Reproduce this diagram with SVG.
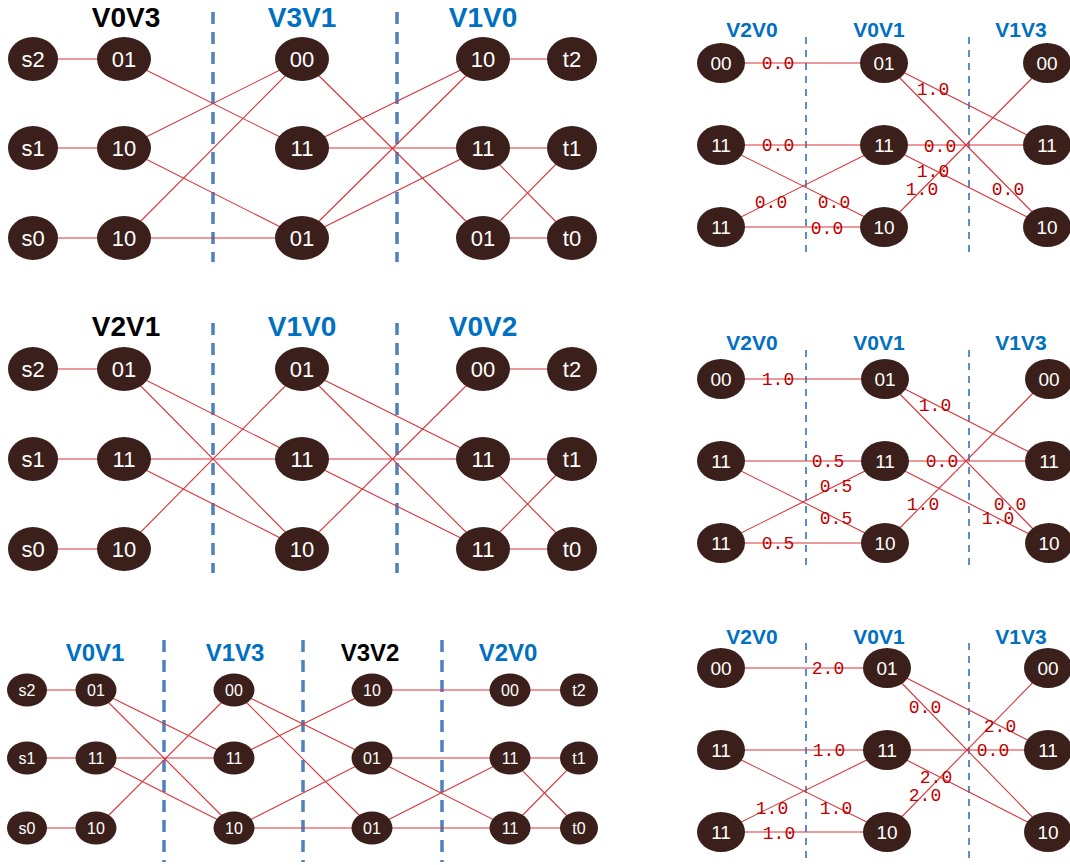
<svg xmlns="http://www.w3.org/2000/svg" width="1070" height="865" viewBox="0 0 1070 865">
<style>
.bg{fill:#ffffff}
.n ellipse{fill:#3b1f1b}
.n text{fill:#ffffff;font-family:"Liberation Sans Narrow","Liberation Sans",Arial,sans-serif;text-anchor:middle}
.L text{font-size:22px}
.S text{font-size:16px}
.R text{font-size:19px;font-family:"Liberation Sans",Arial,sans-serif}
.e line{stroke:#d8343a;stroke-width:1.1;fill:none}
.w{fill:#c00000;font-family:"Liberation Mono","Courier New",monospace;font-size:18px;text-anchor:middle}
.t{font-family:"Liberation Sans",Arial,sans-serif;font-weight:bold;text-anchor:middle}
.tb{fill:#0070c0}
.tk{fill:#000000}
.d1{stroke:#4f81bd;stroke-width:3.5;stroke-dasharray:12 8;fill:none}
.d2{stroke:#5b8dc8;stroke-width:2;stroke-dasharray:7 6;fill:none}
</style>
<rect class="bg" x="0" y="0" width="1070" height="865"/>

<g id="titles">
<text class="t tk" x="126" y="27" font-size="28">V0V3</text>
<text class="t tb" x="302" y="27" font-size="28">V3V1</text>
<text class="t tb" x="483" y="27" font-size="28">V1V0</text>
<text class="t tk" x="126" y="336" font-size="28">V2V1</text>
<text class="t tb" x="302" y="336" font-size="28">V1V0</text>
<text class="t tb" x="483" y="336" font-size="28">V0V2</text>
<text class="t tb" x="95" y="661" font-size="24">V0V1</text>
<text class="t tb" x="235" y="661" font-size="24">V1V3</text>
<text class="t tk" x="370" y="661" font-size="24">V3V2</text>
<text class="t tb" x="508" y="661" font-size="24">V2V0</text>
<text class="t tb" x="752" y="37" font-size="21">V2V0</text>
<text class="t tb" x="879" y="37" font-size="21">V0V1</text>
<text class="t tb" x="1021" y="37" font-size="21">V1V3</text>
<text class="t tb" x="752" y="350" font-size="21">V2V0</text>
<text class="t tb" x="879" y="350" font-size="21">V0V1</text>
<text class="t tb" x="1021" y="350" font-size="21">V1V3</text>
<text class="t tb" x="752" y="644" font-size="21">V2V0</text>
<text class="t tb" x="879" y="644" font-size="21">V0V1</text>
<text class="t tb" x="1021" y="644" font-size="21">V1V3</text>
</g>

<g id="dividers">
<line class="d1" x1="213" y1="12" x2="213" y2="262"/>
<line class="d1" x1="397" y1="12" x2="397" y2="262"/>
<line class="d1" x1="213" y1="323" x2="213" y2="573"/>
<line class="d1" x1="397" y1="323" x2="397" y2="573"/>
<line class="d1" x1="164" y1="640" x2="164" y2="862"/>
<line class="d1" x1="303" y1="640" x2="303" y2="862"/>
<line class="d1" x1="442" y1="640" x2="442" y2="862"/>
<line class="d2" x1="806" y1="37" x2="806" y2="257"/>
<line class="d2" x1="969" y1="37" x2="969" y2="257"/>
<line class="d2" x1="806" y1="350" x2="806" y2="570"/>
<line class="d2" x1="969" y1="350" x2="969" y2="570"/>
<line class="d2" x1="806" y1="643" x2="806" y2="862"/>
<line class="d2" x1="969" y1="643" x2="969" y2="862"/>
</g>

<g id="connectors" class="e">
<!-- panel 1 -->
<line x1="33" y1="59" x2="124" y2="59"/>
<line x1="33" y1="148" x2="124" y2="148"/>
<line x1="33" y1="238" x2="124" y2="238"/>
<line x1="124" y1="59" x2="302" y2="148"/>
<line x1="124" y1="148" x2="302" y2="59"/>
<line x1="124" y1="148" x2="302" y2="238"/>
<line x1="124" y1="238" x2="302" y2="59"/>
<line x1="124" y1="238" x2="302" y2="238"/>
<line x1="302" y1="59" x2="483" y2="238"/>
<line x1="302" y1="148" x2="483" y2="59"/>
<line x1="302" y1="148" x2="483" y2="148"/>
<line x1="302" y1="238" x2="483" y2="59"/>
<line x1="302" y1="238" x2="483" y2="148"/>
<line x1="483" y1="59" x2="572" y2="59"/>
<line x1="483" y1="148" x2="572" y2="148"/>
<line x1="483" y1="148" x2="572" y2="238"/>
<line x1="483" y1="238" x2="572" y2="148"/>
<line x1="483" y1="238" x2="572" y2="238"/>
<!-- panel 2 -->
<line x1="33" y1="369" x2="124" y2="369"/>
<line x1="33" y1="459" x2="124" y2="459"/>
<line x1="33" y1="549" x2="124" y2="549"/>
<line x1="124" y1="369" x2="302" y2="459"/>
<line x1="124" y1="369" x2="302" y2="549"/>
<line x1="124" y1="459" x2="302" y2="459"/>
<line x1="124" y1="459" x2="302" y2="549"/>
<line x1="124" y1="549" x2="302" y2="369"/>
<line x1="302" y1="369" x2="483" y2="459"/>
<line x1="302" y1="369" x2="483" y2="549"/>
<line x1="302" y1="459" x2="483" y2="459"/>
<line x1="302" y1="459" x2="483" y2="549"/>
<line x1="302" y1="549" x2="483" y2="369"/>
<line x1="483" y1="369" x2="572" y2="369"/>
<line x1="483" y1="459" x2="572" y2="459"/>
<line x1="483" y1="459" x2="572" y2="549"/>
<line x1="483" y1="549" x2="572" y2="459"/>
<line x1="483" y1="549" x2="572" y2="549"/>
<!-- panel 3 -->
<line x1="27" y1="690" x2="96" y2="690"/>
<line x1="27" y1="758" x2="96" y2="758"/>
<line x1="27" y1="828" x2="96" y2="828"/>
<line x1="96" y1="690" x2="234" y2="758"/>
<line x1="96" y1="690" x2="234" y2="828"/>
<line x1="96" y1="758" x2="234" y2="758"/>
<line x1="96" y1="758" x2="234" y2="828"/>
<line x1="96" y1="828" x2="234" y2="690"/>
<line x1="234" y1="690" x2="372" y2="758"/>
<line x1="234" y1="690" x2="372" y2="828"/>
<line x1="234" y1="758" x2="372" y2="690"/>
<line x1="234" y1="828" x2="372" y2="758"/>
<line x1="234" y1="828" x2="372" y2="828"/>
<line x1="372" y1="690" x2="510" y2="690"/>
<line x1="372" y1="758" x2="510" y2="758"/>
<line x1="372" y1="758" x2="510" y2="828"/>
<line x1="372" y1="828" x2="510" y2="758"/>
<line x1="372" y1="828" x2="510" y2="828"/>
<line x1="510" y1="690" x2="579" y2="690"/>
<line x1="510" y1="758" x2="579" y2="758"/>
<line x1="510" y1="758" x2="579" y2="828"/>
<line x1="510" y1="828" x2="579" y2="758"/>
<line x1="510" y1="828" x2="579" y2="828"/>
<!-- right panel 1 -->
<line x1="721" y1="63" x2="885" y2="63"/>
<line x1="721" y1="145" x2="885" y2="145"/>
<line x1="721" y1="145" x2="885" y2="227"/>
<line x1="721" y1="227" x2="885" y2="145"/>
<line x1="721" y1="227" x2="885" y2="227"/>
<line x1="885" y1="63" x2="1047" y2="145"/>
<line x1="885" y1="63" x2="1047" y2="227"/>
<line x1="885" y1="145" x2="1047" y2="145"/>
<line x1="885" y1="145" x2="1047" y2="227"/>
<line x1="885" y1="227" x2="1047" y2="63"/>
<!-- right panel 2 -->
<line x1="721" y1="379" x2="885" y2="379"/>
<line x1="721" y1="461" x2="885" y2="461"/>
<line x1="721" y1="461" x2="885" y2="543"/>
<line x1="721" y1="543" x2="885" y2="461"/>
<line x1="721" y1="543" x2="885" y2="543"/>
<line x1="885" y1="379" x2="1047" y2="461"/>
<line x1="885" y1="379" x2="1047" y2="543"/>
<line x1="885" y1="461" x2="1047" y2="461"/>
<line x1="885" y1="461" x2="1047" y2="543"/>
<line x1="885" y1="543" x2="1047" y2="379"/>
<!-- right panel 3 -->
<line x1="721" y1="668" x2="887" y2="668"/>
<line x1="721" y1="750" x2="887" y2="750"/>
<line x1="721" y1="750" x2="887" y2="832"/>
<line x1="721" y1="832" x2="887" y2="750"/>
<line x1="721" y1="832" x2="887" y2="832"/>
<line x1="887" y1="668" x2="1047" y2="750"/>
<line x1="887" y1="668" x2="1047" y2="832"/>
<line x1="887" y1="750" x2="1047" y2="750"/>
<line x1="887" y1="750" x2="1047" y2="832"/>
<line x1="887" y1="832" x2="1047" y2="668"/>
</g>

<g id="edge-labels">
<text class="w" x="778" y="69">0.0</text>
<text class="w" x="778" y="151">0.0</text>
<text class="w" x="834" y="208">0.0</text>
<text class="w" x="771" y="208">0.0</text>
<text class="w" x="827" y="234">0.0</text>
<text class="w" x="933" y="95">1.0</text>
<text class="w" x="1008" y="195">0.0</text>
<text class="w" x="940" y="152">0.0</text>
<text class="w" x="933" y="177">1.0</text>
<text class="w" x="922" y="195">1.0</text>

<text class="w" x="778" y="385">1.0</text>
<text class="w" x="828" y="467">0.5</text>
<text class="w" x="836" y="524">0.5</text>
<text class="w" x="836" y="492">0.5</text>
<text class="w" x="778" y="549">0.5</text>
<text class="w" x="935" y="411">1.0</text>
<text class="w" x="1010" y="510">0.0</text>
<text class="w" x="942" y="467">0.0</text>
<text class="w" x="998" y="524">1.0</text>
<text class="w" x="923" y="510">1.0</text>

<text class="w" x="828" y="674">2.0</text>
<text class="w" x="829" y="756">1.0</text>
<text class="w" x="836" y="814">1.0</text>
<text class="w" x="772" y="814">1.0</text>
<text class="w" x="779" y="839">1.0</text>
<text class="w" x="1000" y="732">2.0</text>
<text class="w" x="925" y="713">0.0</text>
<text class="w" x="993" y="756">0.0</text>
<text class="w" x="936" y="783">2.0</text>
<text class="w" x="925" y="801">2.0</text>
</g>

<!-- panel 1 nodes -->
<g id="p1-s2" class="n L"><ellipse cx="33" cy="59" rx="25" ry="22"/><text x="33" y="67">s2</text></g>
<g id="p1-s1" class="n L"><ellipse cx="33" cy="148" rx="25" ry="22"/><text x="33" y="156">s1</text></g>
<g id="p1-s0" class="n L"><ellipse cx="33" cy="238" rx="25" ry="22"/><text x="33" y="246">s0</text></g>
<g id="p1-a0" class="n L"><ellipse cx="124" cy="59" rx="27" ry="22"/><text x="124" y="67">01</text></g>
<g id="p1-a1" class="n L"><ellipse cx="124" cy="148" rx="27" ry="22"/><text x="124" y="156">10</text></g>
<g id="p1-a2" class="n L"><ellipse cx="124" cy="238" rx="27" ry="22"/><text x="124" y="246">10</text></g>
<g id="p1-b0" class="n L"><ellipse cx="302" cy="59" rx="27" ry="22"/><text x="302" y="67">00</text></g>
<g id="p1-b1" class="n L"><ellipse cx="302" cy="148" rx="27" ry="22"/><text x="302" y="156">11</text></g>
<g id="p1-b2" class="n L"><ellipse cx="302" cy="238" rx="27" ry="22"/><text x="302" y="246">01</text></g>
<g id="p1-c0" class="n L"><ellipse cx="483" cy="59" rx="27" ry="22"/><text x="483" y="67">10</text></g>
<g id="p1-c1" class="n L"><ellipse cx="483" cy="148" rx="27" ry="22"/><text x="483" y="156">11</text></g>
<g id="p1-c2" class="n L"><ellipse cx="483" cy="238" rx="27" ry="22"/><text x="483" y="246">01</text></g>
<g id="p1-t2" class="n L"><ellipse cx="572" cy="59" rx="25" ry="22"/><text x="572" y="67">t2</text></g>
<g id="p1-t1" class="n L"><ellipse cx="572" cy="148" rx="25" ry="22"/><text x="572" y="156">t1</text></g>
<g id="p1-t0" class="n L"><ellipse cx="572" cy="238" rx="25" ry="22"/><text x="572" y="246">t0</text></g>

<!-- panel 2 nodes -->
<g id="p2-s2" class="n L"><ellipse cx="33" cy="369" rx="25" ry="22"/><text x="33" y="377">s2</text></g>
<g id="p2-s1" class="n L"><ellipse cx="33" cy="459" rx="25" ry="22"/><text x="33" y="467">s1</text></g>
<g id="p2-s0" class="n L"><ellipse cx="33" cy="549" rx="25" ry="22"/><text x="33" y="557">s0</text></g>
<g id="p2-a0" class="n L"><ellipse cx="124" cy="369" rx="27" ry="22"/><text x="124" y="377">01</text></g>
<g id="p2-a1" class="n L"><ellipse cx="124" cy="459" rx="27" ry="22"/><text x="124" y="467">11</text></g>
<g id="p2-a2" class="n L"><ellipse cx="124" cy="549" rx="27" ry="22"/><text x="124" y="557">10</text></g>
<g id="p2-b0" class="n L"><ellipse cx="302" cy="369" rx="27" ry="22"/><text x="302" y="377">01</text></g>
<g id="p2-b1" class="n L"><ellipse cx="302" cy="459" rx="27" ry="22"/><text x="302" y="467">11</text></g>
<g id="p2-b2" class="n L"><ellipse cx="302" cy="549" rx="27" ry="22"/><text x="302" y="557">10</text></g>
<g id="p2-c0" class="n L"><ellipse cx="483" cy="369" rx="27" ry="22"/><text x="483" y="377">00</text></g>
<g id="p2-c1" class="n L"><ellipse cx="483" cy="459" rx="27" ry="22"/><text x="483" y="467">11</text></g>
<g id="p2-c2" class="n L"><ellipse cx="483" cy="549" rx="27" ry="22"/><text x="483" y="557">11</text></g>
<g id="p2-t2" class="n L"><ellipse cx="572" cy="369" rx="25" ry="22"/><text x="572" y="377">t2</text></g>
<g id="p2-t1" class="n L"><ellipse cx="572" cy="459" rx="25" ry="22"/><text x="572" y="467">t1</text></g>
<g id="p2-t0" class="n L"><ellipse cx="572" cy="549" rx="25" ry="22"/><text x="572" y="557">t0</text></g>

<!-- panel 3 nodes -->
<g id="p3-s2" class="n S"><ellipse cx="27" cy="690" rx="20" ry="16.5"/><text x="27" y="696">s2</text></g>
<g id="p3-s1" class="n S"><ellipse cx="27" cy="758" rx="20" ry="16.5"/><text x="27" y="764">s1</text></g>
<g id="p3-s0" class="n S"><ellipse cx="27" cy="828" rx="20" ry="16.5"/><text x="27" y="834">s0</text></g>
<g id="p3-a0" class="n S"><ellipse cx="96" cy="690" rx="20.5" ry="16.5"/><text x="96" y="696">01</text></g>
<g id="p3-a1" class="n S"><ellipse cx="96" cy="758" rx="20.5" ry="16.5"/><text x="96" y="764">11</text></g>
<g id="p3-a2" class="n S"><ellipse cx="96" cy="828" rx="20.5" ry="16.5"/><text x="96" y="834">10</text></g>
<g id="p3-b0" class="n S"><ellipse cx="234" cy="690" rx="20.5" ry="16.5"/><text x="234" y="696">00</text></g>
<g id="p3-b1" class="n S"><ellipse cx="234" cy="758" rx="20.5" ry="16.5"/><text x="234" y="764">11</text></g>
<g id="p3-b2" class="n S"><ellipse cx="234" cy="828" rx="20.5" ry="16.5"/><text x="234" y="834">10</text></g>
<g id="p3-c0" class="n S"><ellipse cx="372" cy="690" rx="20.5" ry="16.5"/><text x="372" y="696">10</text></g>
<g id="p3-c1" class="n S"><ellipse cx="372" cy="758" rx="20.5" ry="16.5"/><text x="372" y="764">01</text></g>
<g id="p3-c2" class="n S"><ellipse cx="372" cy="828" rx="20.5" ry="16.5"/><text x="372" y="834">01</text></g>
<g id="p3-d0" class="n S"><ellipse cx="510" cy="690" rx="20.5" ry="16.5"/><text x="510" y="696">00</text></g>
<g id="p3-d1" class="n S"><ellipse cx="510" cy="758" rx="20.5" ry="16.5"/><text x="510" y="764">11</text></g>
<g id="p3-d2" class="n S"><ellipse cx="510" cy="828" rx="20.5" ry="16.5"/><text x="510" y="834">11</text></g>
<g id="p3-t2" class="n S"><ellipse cx="579" cy="690" rx="19" ry="16.5"/><text x="579" y="696">t2</text></g>
<g id="p3-t1" class="n S"><ellipse cx="579" cy="758" rx="19" ry="16.5"/><text x="579" y="764">t1</text></g>
<g id="p3-t0" class="n S"><ellipse cx="579" cy="828" rx="19" ry="16.5"/><text x="579" y="834">t0</text></g>

<!-- right panel 1 nodes -->
<g id="r1-a0" class="n R"><ellipse cx="721" cy="63" rx="24" ry="20"/><text x="721" y="70">00</text></g>
<g id="r1-a1" class="n R"><ellipse cx="721" cy="145" rx="24" ry="20"/><text x="721" y="152">11</text></g>
<g id="r1-a2" class="n R"><ellipse cx="721" cy="227" rx="24" ry="20"/><text x="721" y="234">11</text></g>
<g id="r1-b0" class="n R"><ellipse cx="884" cy="63" rx="24" ry="20"/><text x="884" y="70">01</text></g>
<g id="r1-b1" class="n R"><ellipse cx="884" cy="145" rx="24" ry="20"/><text x="884" y="152">11</text></g>
<g id="r1-b2" class="n R"><ellipse cx="884" cy="227" rx="24" ry="20"/><text x="884" y="234">10</text></g>
<g id="r1-c0" class="n R"><ellipse cx="1047" cy="63" rx="24" ry="20"/><text x="1047" y="70">00</text></g>
<g id="r1-c1" class="n R"><ellipse cx="1047" cy="145" rx="24" ry="20"/><text x="1047" y="152">11</text></g>
<g id="r1-c2" class="n R"><ellipse cx="1047" cy="227" rx="24" ry="20"/><text x="1047" y="234">10</text></g>

<!-- right panel 2 nodes -->
<g id="r2-a0" class="n R"><ellipse cx="721" cy="379" rx="24" ry="20"/><text x="721" y="386">00</text></g>
<g id="r2-a1" class="n R"><ellipse cx="721" cy="461" rx="24" ry="20"/><text x="721" y="468">11</text></g>
<g id="r2-a2" class="n R"><ellipse cx="721" cy="543" rx="24" ry="20"/><text x="721" y="550">11</text></g>
<g id="r2-b0" class="n R"><ellipse cx="885" cy="379" rx="24" ry="20"/><text x="885" y="386">01</text></g>
<g id="r2-b1" class="n R"><ellipse cx="885" cy="461" rx="24" ry="20"/><text x="885" y="468">11</text></g>
<g id="r2-b2" class="n R"><ellipse cx="885" cy="543" rx="24" ry="20"/><text x="885" y="550">10</text></g>
<g id="r2-c0" class="n R"><ellipse cx="1049" cy="379" rx="24" ry="20"/><text x="1049" y="386">00</text></g>
<g id="r2-c1" class="n R"><ellipse cx="1049" cy="461" rx="24" ry="20"/><text x="1049" y="468">11</text></g>
<g id="r2-c2" class="n R"><ellipse cx="1049" cy="543" rx="24" ry="20"/><text x="1049" y="550">10</text></g>

<!-- right panel 3 nodes -->
<g id="r3-a0" class="n R"><ellipse cx="721" cy="668" rx="24" ry="20"/><text x="721" y="675">00</text></g>
<g id="r3-a1" class="n R"><ellipse cx="721" cy="750" rx="24" ry="20"/><text x="721" y="757">11</text></g>
<g id="r3-a2" class="n R"><ellipse cx="721" cy="832" rx="24" ry="20"/><text x="721" y="839">11</text></g>
<g id="r3-b0" class="n R"><ellipse cx="887" cy="668" rx="24" ry="20"/><text x="887" y="675">01</text></g>
<g id="r3-b1" class="n R"><ellipse cx="887" cy="750" rx="24" ry="20"/><text x="887" y="757">11</text></g>
<g id="r3-b2" class="n R"><ellipse cx="887" cy="832" rx="24" ry="20"/><text x="887" y="839">10</text></g>
<g id="r3-c0" class="n R"><ellipse cx="1048" cy="668" rx="24" ry="20"/><text x="1048" y="675">00</text></g>
<g id="r3-c1" class="n R"><ellipse cx="1048" cy="750" rx="24" ry="20"/><text x="1048" y="757">11</text></g>
<g id="r3-c2" class="n R"><ellipse cx="1048" cy="832" rx="24" ry="20"/><text x="1048" y="839">10</text></g>
</svg>
